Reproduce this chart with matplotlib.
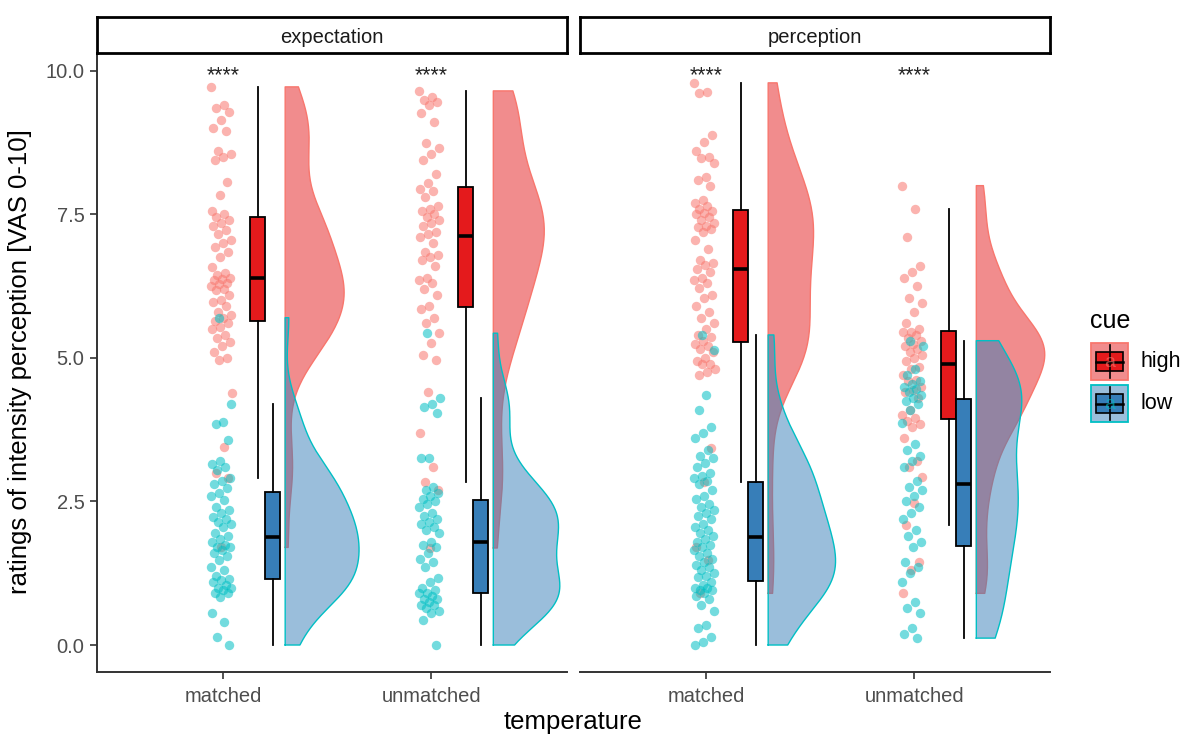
import numpy as np
import matplotlib
matplotlib.use("Agg")
import matplotlib.pyplot as plt
from matplotlib.patches import Rectangle

plt.rcParams["font.family"] = ["Liberation Sans", "DejaVu Sans"]

# ratings, one list per facet / temperature / cue
facets = ["expectation", "perception"]
temperatures = ["matched", "unmatched"]
cues = ["high", "low"]

exp_matched_high = [9.72, 9.4, 9.35, 9.28, 9.15, 9.0, 8.95, 8.6, 8.55, 8.5, 8.45, 8.07, 7.84,
                    7.55, 7.5, 7.45, 7.4, 7.35, 7.3, 7.23, 7.15, 7.05, 7.0, 6.93, 6.85, 6.76,
                    6.59, 6.48, 6.45, 6.4, 6.38, 6.35, 6.3, 6.28, 6.25, 6.2, 6.18, 6.1, 6.0,
                    5.97, 5.9, 5.8, 5.75, 5.7, 5.65, 5.6, 5.54, 5.5, 5.4, 5.35, 5.28, 5.2, 5.1,
                    5.0, 4.97, 4.39, 3.45, 3.0, 2.9, 1.7]
exp_matched_low = [5.7, 4.2, 3.88, 3.85, 3.57, 3.2, 3.15, 3.1, 3.05, 2.9, 2.85, 2.8, 2.73, 2.65,
                   2.6, 2.53, 2.4, 2.35, 2.3, 2.23, 2.2, 2.15, 2.1, 2.05, 1.95, 1.9, 1.85, 1.8,
                   1.75, 1.7, 1.7, 1.65, 1.6, 1.55, 1.48, 1.36, 1.3, 1.2, 1.15, 1.13, 1.1,
                   1.05, 1.0, 1.0, 0.95, 0.9, 0.9, 0.84, 0.56, 0.4, 0.14, 0.0]
exp_unmatched_high = [9.65, 9.55, 9.5, 9.45, 9.4, 9.27, 9.1, 8.75, 8.65, 8.55, 8.45, 8.2,
                      8.05, 7.95, 7.9, 7.8, 7.65, 7.6, 7.55, 7.5, 7.45, 7.4, 7.35, 7.3, 7.2,
                      7.15, 7.1, 7.0, 6.85, 6.8, 6.75, 6.7, 6.6, 6.4, 6.35, 6.3, 6.2, 6.1, 5.9,
                      5.85, 5.7, 5.6, 5.43, 5.26, 5.05, 4.97, 4.4, 3.7, 3.1, 2.84, 2.7, 1.69]
exp_unmatched_low = [5.43, 4.3, 4.2, 4.15, 4.04, 3.26, 3.25, 2.75, 2.7, 2.65, 2.6, 2.55, 2.5,
                     2.45, 2.4, 2.3, 2.25, 2.2, 2.15, 2.1, 2.05, 2.0, 1.95, 1.8, 1.75, 1.7, 1.6,
                     1.5, 1.45, 1.36, 1.17, 1.1, 1.0, 0.95, 0.9, 0.9, 0.85, 0.8, 0.8, 0.75, 0.7,
                     0.7, 0.65, 0.6, 0.55, 0.44, 0.0]
perc_matched_high = [9.79, 9.63, 9.62, 8.88, 8.76, 8.6, 8.5, 8.48, 8.4, 8.15, 8.1, 8.0, 7.75,
                     7.7, 7.65, 7.6, 7.55, 7.52, 7.5, 7.45, 7.4, 7.35, 7.3, 7.28, 7.25, 7.2,
                     7.05, 6.9, 6.7, 6.65, 6.62, 6.55, 6.5, 6.4, 6.35, 6.3, 6.22, 6.1, 6.05, 5.9,
                     5.8, 5.7, 5.6, 5.5, 5.4, 5.37, 5.3, 5.25, 5.2, 5.15, 5.1, 5.0, 4.95, 4.9,
                     4.9, 4.8, 4.75, 4.7, 3.43, 2.84, 1.7, 1.48, 0.9]
perc_matched_low = [5.4, 5.14, 4.35, 4.1, 3.8, 3.7, 3.6, 3.4, 3.3, 3.25, 3.17, 3.1, 3.0, 2.95,
                    2.9, 2.85, 2.8, 2.7, 2.6, 2.55, 2.45, 2.4, 2.35, 2.3, 2.25, 2.2, 2.1, 2.05,
                    2.0, 1.95, 1.9, 1.85, 1.8, 1.75, 1.7, 1.65, 1.6, 1.55, 1.5, 1.45, 1.4, 1.35,
                    1.3, 1.25, 1.2, 1.18, 1.1, 1.05, 1.0, 1.0, 0.96, 0.95, 0.9, 0.85, 0.8, 0.7,
                    0.6, 0.35, 0.3, 0.14, 0.05, 0.0]
perc_unmatched_high = [8.0, 7.6, 7.1, 6.6, 6.5, 6.4, 6.25, 6.05, 5.95, 5.8, 5.6, 5.5, 5.45,
                       5.45, 5.4, 5.35, 5.3, 5.25, 5.2, 5.15, 5.1, 5.05, 5.0, 4.95, 4.85, 4.8,
                       4.7, 4.62, 4.6, 4.5, 4.44, 4.4, 4.3, 4.1, 4.0, 3.95, 3.9, 3.85, 3.8, 3.6,
                       3.2, 3.1, 2.93, 2.47, 2.09, 1.45, 1.3, 0.9]
perc_unmatched_low = [5.3, 5.2, 4.8, 4.7, 4.6, 4.55, 4.5, 4.45, 4.4, 4.35, 4.3, 4.25, 4.2,
                      4.1, 3.87, 3.5, 3.4, 3.3, 3.2, 3.1, 2.85, 2.75, 2.7, 2.6, 2.5, 2.4, 2.3,
                      2.2, 2.0, 1.9, 1.8, 1.7, 1.45, 1.35, 1.25, 1.1, 0.75, 0.65, 0.55, 0.3,
                      0.2, 0.12]

ratings = {
    ("expectation", "matched", "high"): exp_matched_high,
    ("expectation", "matched", "low"): exp_matched_low,
    ("expectation", "unmatched", "high"): exp_unmatched_high,
    ("expectation", "unmatched", "low"): exp_unmatched_low,
    ("perception", "matched", "high"): perc_matched_high,
    ("perception", "matched", "low"): perc_matched_low,
    ("perception", "unmatched", "high"): perc_unmatched_high,
    ("perception", "unmatched", "low"): perc_unmatched_low,
}
sig_labels = ["****", "****"]

point_colors = {"high": "#F8766D", "low": "#00BFC4"}
box_colors = {"high": "#E41A1C", "low": "#377EB8"}
box_offset = {"high": 0.165, "low": 0.237}
BOX_W = 0.072
VIOLIN_BASE = 0.297
VIOLIN_MAX = 0.355

W, H = 1189, 736
fig = plt.figure(figsize=(W / 100, H / 100), dpi=100)


def px_axes(x0, y0, x1, y1):
    return fig.add_axes([x0 / W, 1 - y1 / H, (x1 - x0) / W, (y1 - y0) / H])


def kde(values, grid):
    v = np.asarray(values, float)
    sd = v.std(ddof=1)
    iqr = np.subtract(*np.percentile(v, [75, 25]))
    bw = 0.9 * min(sd, iqr / 1.34) * len(v) ** -0.2
    z = (grid[:, None] - v[None, :]) / bw
    return np.exp(-0.5 * z ** 2).sum(axis=1) / (len(v) * bw * np.sqrt(2 * np.pi))


# densities first, so the violins share one area scale
dens = {}
for key, vals in ratings.items():
    grid = np.linspace(min(vals), max(vals), 256)
    dens[key] = (grid, kde(vals, grid))
scale = VIOLIN_MAX / max(d.max() for _, d in dens.values())

panels = [(97, 567), (580, 1050)]
for fi, facet in enumerate(facets):
    x0, x1 = panels[fi]
    ax = px_axes(x0, 53, x1, 672)
    for ti, temp in enumerate(temperatures):
        xc = ti + 1
        for cue in cues:
            vals = np.asarray(ratings[(facet, temp, cue)])
            n = len(vals)
            jit = ((np.arange(n) * 0.618034 + 0.37 * (cue == "low")) % 1 - 0.5) * 0.1
            ax.scatter(xc - 0.01 + jit, vals, s=46, color=point_colors[cue], alpha=0.55,
                       linewidths=0, zorder=2)
        for cue in cues:
            vals = ratings[(facet, temp, cue)]
            ax.boxplot([vals], positions=[xc + box_offset[cue]], widths=BOX_W,
                       patch_artist=True, showfliers=False, showcaps=False, whis=1.5,
                       boxprops=dict(facecolor=box_colors[cue], edgecolor="black", linewidth=1.3),
                       medianprops=dict(color="black", linewidth=2.6),
                       whiskerprops=dict(color="black", linewidth=1.3),
                       zorder=3)
        for cue in cues:
            grid, d = dens[(facet, temp, cue)]
            ax.fill_betweenx(grid, xc + VIOLIN_BASE, xc + VIOLIN_BASE + d * scale,
                             facecolor=box_colors[cue], alpha=0.5, linewidth=0, zorder=4)
            xs = np.concatenate([[xc + VIOLIN_BASE], xc + VIOLIN_BASE + d * scale,
                                 [xc + VIOLIN_BASE, xc + VIOLIN_BASE]])
            ys = np.concatenate([[grid[0]], grid, [grid[-1], grid[0]]])
            ax.plot(xs, ys, color=point_colors[cue], linewidth=1.0, zorder=4)
        ax.text(xc, 9.82, sig_labels[fi], ha="center", va="baseline", fontsize=15.5,
                color="#222222", zorder=5)

    ax.set_xlim(0.393, 2.651)
    ax.set_ylim(-0.47, 10.31)
    ax.set_xticks([1, 2])
    ax.set_xticklabels(temperatures)
    ax.tick_params(axis="x", labelsize=14.5, labelcolor="#4D4D4D", length=5, width=1.2,
                   color="#333333", pad=6)
    for side in ["top", "right"]:
        ax.spines[side].set_visible(False)
    ax.spines["bottom"].set_linewidth(1.4)
    ax.spines["bottom"].set_color("#333333")
    if fi == 0:
        ax.set_yticks([0, 2.5, 5, 7.5, 10])
        ax.set_yticklabels(["0.0", "2.5", "5.0", "7.5", "10.0"])
        ax.tick_params(axis="y", labelsize=14.5, labelcolor="#4D4D4D", length=5, width=1.2,
                       color="#333333", pad=4)
        ax.spines["left"].set_linewidth(1.4)
        ax.spines["left"].set_color("#333333")
    else:
        ax.spines["left"].set_visible(False)
        ax.set_yticks([])

    strip = px_axes(x0, 17, x1, 53)
    strip.set_xticks([])
    strip.set_yticks([])
    for sp in strip.spines.values():
        sp.set_linewidth(2.0)
        sp.set_color("black")
    strip.text(0.5, 0.42, facet, ha="center", va="center", fontsize=14.5, color="#1A1A1A",
               transform=strip.transAxes)

fig.text(573 / W, 1 - 722 / H, "temperature", ha="center", va="center", fontsize=18.5)
fig.text(20 / W, 1 - 362 / H, "ratings of intensity perception [VAS 0-10]", ha="center",
         va="center", rotation=90, fontsize=18.5)

# legend drawn by hand in pixel coordinates
leg = px_axes(1080, 295, 1189, 430)
leg.set_xlim(1080, 1189)
leg.set_ylim(430, 295)
leg.axis("off")
leg.text(1090, 321, "cue", ha="left", va="center", fontsize=18)
for i, cue in enumerate(cues):
    top = 343 + i * 42
    leg.add_patch(Rectangle((1091, top), 37, 37, facecolor=box_colors[cue], alpha=0.5,
                            edgecolor="none"))
    leg.add_patch(Rectangle((1091, top), 37, 37, facecolor="none",
                            edgecolor=point_colors[cue], linewidth=1.3))
    mid = top + 18.5
    leg.plot([1109.5, 1109.5], [top + 2, top + 35], color="black", linewidth=1.2)
    leg.add_patch(Rectangle((1096, top + 9), 27, 19, facecolor=box_colors[cue],
                            edgecolor="black", linewidth=1.2))
    leg.plot([1096, 1123], [mid, mid], color="black", linewidth=1.8)
    leg.text(1109.5, mid + 1, "a", ha="center", va="center", fontsize=14,
             color=point_colors[cue], alpha=0.6)
    leg.text(1141, mid, cue, ha="left", va="center", fontsize=15.5)

fig.savefig("out.png", dpi=100)
